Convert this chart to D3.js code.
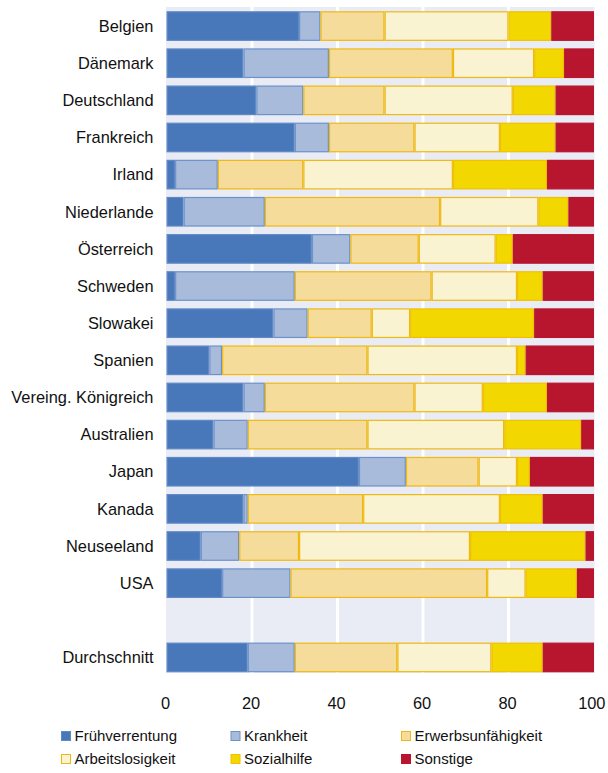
<!DOCTYPE html>
<html>
<head>
<meta charset="utf-8">
<script src="https://cdn.jsdelivr.net/npm/d3@7"></script>
<style>
  body { margin: 0; background: #fff; }
  text { font-family: "Liberation Sans", Arial, sans-serif; }
</style>
</head>
<body>
<svg id="chart" width="608" height="773"></svg>
<script>
const countries = ["Belgien", "Dänemark", "Deutschland", "Frankreich", "Irland", "Niederlande",
    "Österreich", "Schweden", "Slowakei", "Spanien", "Vereing. Königreich", "Australien",
    "Japan", "Kanada", "Neuseeland", "USA", "", "Durchschnitt"];

const categories = ["Frühverrentung", "Krankheit", "Erwerbsunfähigkeit", "Arbeitslosigkeit", "Sozialhilfe", "Sonstige"];

// shares in percent, one array per category, same order as countries ("" is the gap row)
const fruehverrentung   = [31, 18, 21, 30,  2,  4, 34,  2, 25, 10, 18, 11, 45, 18,  8, 13, null, 19];
const krankheit         = [ 5, 20, 11,  8, 10, 19,  9, 28,  8,  3,  5,  8, 11,  1,  9, 16, null, 11];
const erwerbsunfaehig   = [15, 29, 19, 20, 20, 41, 16, 32, 15, 34, 35, 28, 17, 27, 14, 46, null, 24];
const arbeitslosigkeit  = [29, 19, 30, 20, 35, 23, 18, 20,  9, 35, 16, 32,  9, 32, 40,  9, null, 22];
const sozialhilfe       = [10,  7, 10, 13, 22,  7,  4,  6, 29,  2, 15, 18,  3, 10, 27, 12, null, 12];
const sonstige          = [10,  7,  9,  9, 11,  6, 19, 12, 14, 16, 11,  3, 15, 12,  2,  4, null, 12];

const xTicks = [0, 20, 40, 60, 80, 100];

const series = [fruehverrentung, krankheit, erwerbsunfaehig, arbeitslosigkeit, sozialhilfe, sonstige];
const fills   = ["#4877ba", "#a8bbdb", "#f5dc9b", "#faf3d1", "#f2d700", "#b8162e"];
const strokes = ["#5f89c6", "#6c92c9", "#efb912", "#efb912", "#eec200", "#b8162e"];

const svg = d3.select("#chart");
const left = 166.5, right = 594;

let x = d3.scaleLinear().domain([0, 100]).range([left, right]);
let y = d3.scaleBand().domain(countries.map((c, i) => i)).range([7.5, 676]).paddingInner(0.2).paddingOuter(0.1);

// plot background
svg.append("rect").attr("x", left - 0.5).attr("y", 7).attr("width", right - left + 1).attr("height", 666).attr("fill", "#e9ebf5");

// gridlines
svg.selectAll(".grid").data(xTicks.slice(1, -1)).enter().append("line")
    .attr("x1", d => x(d)).attr("x2", d => x(d)).attr("y1", 7).attr("y2", 673)
    .attr("stroke", "#fff").attr("stroke-width", 3);

// stacked rows
let rows = countries.map((c, i) => {
    let r = { index: i };
    categories.forEach((k, j) => r[k] = series[j][i] || 0);
    return r;
}).filter(r => countries[r.index] !== "");

let stacked = d3.stack().keys(categories)(rows);

stacked.forEach((layer, j) => {
    svg.append("g").selectAll("rect").data(layer).enter().append("rect")
        .attr("x", d => x(d[0]) + 0.6)
        .attr("width", d => Math.max(0, x(d[1]) - x(d[0]) - 1.2))
        .attr("y", d => y(d.data.index) + 0.6)
        .attr("height", y.bandwidth() - 1.2)
        .attr("fill", fills[j])
        .attr("stroke", strokes[j])
        .attr("stroke-width", 1.2);
});

// country labels
svg.append("g").selectAll("text").data(countries).enter().append("text")
    .attr("x", 153.5).attr("y", (d, i) => y(i) + y.bandwidth() / 2)
    .attr("dy", "0.35em").attr("text-anchor", "end")
    .attr("font-size", 16.4).attr("fill", "#111")
    .text(d => d);

// x axis labels (last one kept inside the picture)
svg.append("g").selectAll("text").data(xTicks).enter().append("text")
    .attr("x", d => d === 100 ? x(d) + 11.5 : x(d) - 1).attr("y", 703.5).attr("dy", "0.35em")
    .attr("text-anchor", d => d === 100 ? "end" : "middle").attr("font-size", 16.4).attr("fill", "#111")
    .text(d => d);

// legend
const legendX = [61, 230.5, 401];
const legendY = [736, 759];
let legend = svg.append("g").selectAll("g").data(categories).enter().append("g")
    .attr("transform", (d, i) => `translate(${legendX[i % 3]}, ${legendY[Math.floor(i / 3)]})`);
legend.append("rect").attr("x", 0.5).attr("y", -4.5).attr("width", 9).attr("height", 9)
    .attr("fill", (d, i) => fills[i]).attr("stroke", (d, i) => strokes[i]).attr("stroke-width", 1);
legend.append("text").attr("x", 13.5).attr("y", 0).attr("dy", "0.35em")
    .attr("font-size", 15).attr("fill", "#111").text(d => d);
</script>
</body>
</html>
